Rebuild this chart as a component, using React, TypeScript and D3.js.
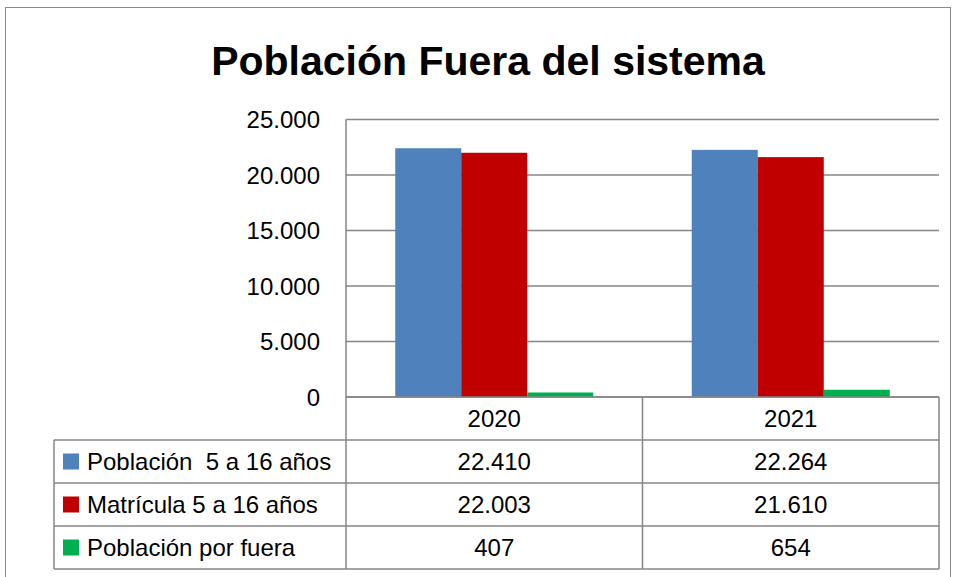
import React from "react";
import * as d3 from "d3";

const years = ["2020", "2021"];
const seriesNames = ["Población  5 a 16 años", "Matrícula 5 a 16 años", "Población por fuera"];
const seriesColors = ["#4F81BD", "#C00000", "#00B050"];
const poblacion = [22410, 22264];
const matricula = [22003, 21610];
const porFuera = [407, 654];
const yTicks = [0, 5000, 10000, 15000, 20000, 25000];
const title = "Población Fuera del sistema";

const values = [poblacion, matricula, porFuera];

const locale = d3.formatLocale({ decimal: ",", thousands: ".", grouping: [3], currency: ["$", ""] });
const fmt = locale.format(",d");

export default function App() {
  const W = 956, H = 577;
  const plotL = 346, plotR = 939, plotT = 119.5, plotB = 397;
  const rowH = 43;
  const tableL = 54;
  const font = "'Liberation Sans', Arial, sans-serif";
  const grid = "#868686";

  const x = d3.scaleBand<string>().domain(years).range([plotL, plotR]).padding(0);
  const inner = d3.scaleBand<number>().domain(d3.range(seriesNames.length)).range([0, x.bandwidth()]).paddingInner(0).paddingOuter(0.746);
  const y = d3.scaleLinear().domain([0, 25000]).range([plotB, plotT]);

  const rowTop = (i: number) => plotB + rowH * (i + 1);
  const tableBottom = rowTop(seriesNames.length);

  return (
    <svg width={W} height={H} style={{ position: "absolute", left: 0, top: 0, background: "#fff" }} fontFamily={font}>
      <rect x={0} y={0} width={W} height={H} fill="#fff" />
      <rect x={5.5} y={7.5} width={945} height={600} fill="none" stroke="#8a8a8a" strokeWidth={1} />
      <text x={488} y={75} textAnchor="middle" fontSize={41} fontWeight="bold" fill="#000">{title}</text>

      {yTicks.map((t) => (
        <g key={t}>
          <line x1={plotL} x2={plotR} y1={y(t)} y2={y(t)} stroke={grid} strokeWidth={1.5} />
          <text x={320} y={y(t) + 8.5} textAnchor="end" fontSize={24} fill="#000">{fmt(t)}</text>
        </g>
      ))}
      <line x1={plotL} x2={plotL} y1={plotT} y2={tableBottom} stroke={grid} strokeWidth={1.5} />

      {years.map((yr, ci) => (
        <g key={yr}>
          {values.map((vals, si) => (
            <rect key={si} x={(x(yr) as number) + (inner(si) as number)} y={y(vals[ci])} width={inner.bandwidth()} height={plotB - y(vals[ci])} fill={seriesColors[si]} />
          ))}
        </g>
      ))}

      {/* table */}
      {years.map((yr) => (
        <line key={"v" + yr} x1={(x(yr) as number) + x.bandwidth()} x2={(x(yr) as number) + x.bandwidth()} y1={plotB} y2={tableBottom} stroke={grid} strokeWidth={1.5} />
      ))}
      <line x1={plotL} x2={plotR} y1={plotB} y2={plotB} stroke={grid} strokeWidth={1.5} />
      {seriesNames.map((_, i) => (
        <line key={"h" + i} x1={tableL} x2={plotR} y1={rowTop(i)} y2={rowTop(i)} stroke={grid} strokeWidth={1.5} />
      ))}
      <line x1={tableL} x2={plotR} y1={tableBottom} y2={tableBottom} stroke={grid} strokeWidth={1.5} />
      <line x1={tableL} x2={tableL} y1={rowTop(0)} y2={tableBottom} stroke={grid} strokeWidth={1.5} />

      {years.map((yr) => (
        <text key={"yl" + yr} x={(x(yr) as number) + x.bandwidth() / 2} y={plotB + rowH / 2 + 8.5} textAnchor="middle" fontSize={24} fill="#000">{yr}</text>
      ))}

      {seriesNames.map((name, si) => (
        <g key={name}>
          <rect x={63} y={rowTop(si) + rowH / 2 - 8} width={16} height={16} fill={seriesColors[si]} />
          <text x={87} y={rowTop(si) + rowH / 2 + 8.5} fontSize={24} fill="#000" style={{ whiteSpace: "pre" }}>{name}</text>
          {years.map((yr, ci) => (
            <text key={yr} x={(x(yr) as number) + x.bandwidth() / 2} y={rowTop(si) + rowH / 2 + 8.5} textAnchor="middle" fontSize={24} fill="#000">{fmt(values[si][ci])}</text>
          ))}
        </g>
      ))}
    </svg>
  );
}
